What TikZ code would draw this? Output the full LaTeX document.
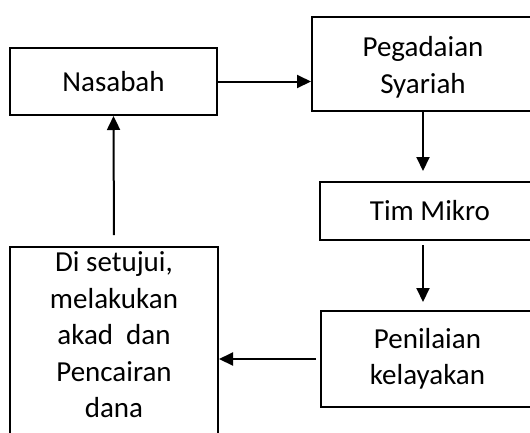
\documentclass[tikz,border=0pt]{standalone}
\usepackage{fontspec}
\setmainfont{Carlito}
\usepackage{tikz}
\usetikzlibrary{
	positioning,    % posisi node
	arrows.meta     % ujung panah
}

\begin{document}
\begin{tikzpicture}[x=1pt, y=-1pt,
		kotak/.style={draw, line width=2pt, align=center,
			font=\fontsize{29}{36.5}\selectfont},
		panah/.style={-{Triangle[length=14pt, width=13pt]}, line width=2pt}]
		% Ukuran gambar
		\useasboundingbox (0,0) rectangle (530,432);
		
		% --- Kotak ---
		\node[kotak, minimum width=207pt, minimum height=67pt] (nasabah) at (113.5,81.5) {Nasabah};
		\node[kotak, minimum width=222pt, minimum height=94pt, text height=63pt] (pegadaian) at (423,64) {Pegadaian\\Syariah};
		\node[kotak, minimum width=220pt, minimum height=58pt] (tim) at (430,211) {Tim Mikro};
		\node[kotak, minimum width=213pt, minimum height=96pt] (penilaian) at (427.5,359) {Penilaian\\kelayakan};
		% Kotak kiri bawah (terpotong di bawah)
		\node[kotak, anchor=north, inner xsep=4pt, inner ysep=5pt] (setuju) at (114,246)
		{\parbox[t][190pt][t]{200pt}{\centering Di setujui,\\melakukan\\akad~ dan\\Pencairan\\dana}};
		
		% --- Panah ---
		\draw[panah] (nasabah.east) -- (nasabah.east -| pegadaian.west);
		\draw[panah, shorten >=10pt] (pegadaian.south) -- (pegadaian.south |- tim.north);
		\draw[panah, shorten <=4pt, shorten >=8pt] (tim.south -| pegadaian.south) -- (penilaian.north -| pegadaian.south);
		\draw[panah, shorten <=4pt] (penilaian.west) -- (penilaian.west -| setuju.east);
		\draw[panah, shorten <=11pt] (setuju.north) -- (nasabah.south);
\end{tikzpicture}
\end{document}
